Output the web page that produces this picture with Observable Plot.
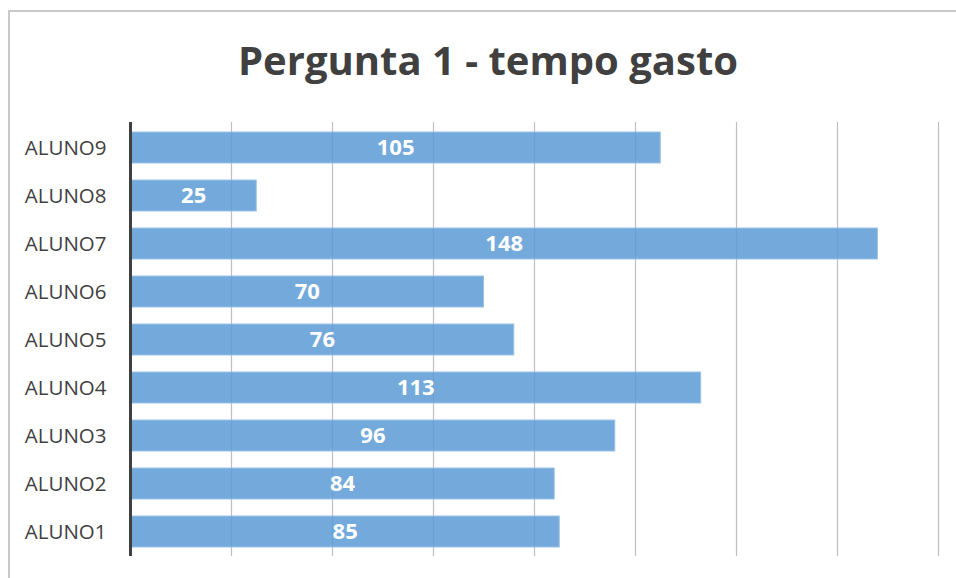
<!DOCTYPE html>
<html>
<head>
<meta charset="utf-8">
<script src="https://cdn.jsdelivr.net/npm/d3@7"></script>
<script src="https://cdn.jsdelivr.net/npm/@observablehq/plot@0.6"></script>
<style>
  html, body { margin: 0; padding: 0; background: #fff; }
  #wrap { position: relative; width: 956px; height: 578px; overflow: hidden; font-family: "Open Sans", sans-serif; }
  #frame { position: absolute; left: 8px; top: 10px; width: 960px; height: 580px; border-top: 2px solid #c9c9c9; border-left: 2px solid #c9c9c9; box-sizing: border-box; }
  #title { position: absolute; left: 0; top: 30px; width: 976px; text-align: center; font-size: 40px; font-weight: 700; color: #404040; line-height: 60px; }
  #chart { position: absolute; left: 0; top: 111px; }
</style>
</head>
<body>
<div id="wrap">
  <div id="frame"></div>
  <div id="title">Pergunta 1 - tempo gasto</div>
  <div id="chart"></div>
</div>
<script>
const alunos = ["ALUNO1","ALUNO2","ALUNO3","ALUNO4","ALUNO5","ALUNO6","ALUNO7","ALUNO8","ALUNO9"];
const tempos = [85, 84, 96, 113, 76, 70, 148, 25, 105];
const gridTicks = [0, 20, 40, 60, 80, 100, 120, 140, 160];

const data = alunos.map((a, i) => ({aluno: a, tempo: tempos[i]}));

const plot = Plot.plot({
  width: 956,
  height: 467,
  marginLeft: 130,
  marginRight: 18,
  marginTop: 11,
  marginBottom: 22,
  style: {fontFamily: "'Open Sans', sans-serif", background: "transparent"},
  x: {domain: [0, 160], axis: null},
  y: {domain: alunos.slice().reverse(), paddingInner: 0.355, paddingOuter: 0.1775, label: null},
  marks: [
    Plot.ruleX(gridTicks.slice(1), {stroke: "#bfbfbf", strokeWidth: 1.2}),
    Plot.barX(data, {x: "tempo", y: "aluno", fill: "#5b9bd5", fillOpacity: 0.85, stroke: "#9dc3e6", strokeWidth: 1}),
    Plot.text(data, {x: d => d.tempo / 2, y: "aluno", text: d => String(d.tempo), fill: "white", fontWeight: 700, fontSize: 22}),
    Plot.ruleX([0], {stroke: "#404040", strokeWidth: 3}),
    Plot.axisY({tickSize: 0, tickPadding: 24, fontSize: 20.5, color: "#404040", label: null})
  ]
});
document.getElementById("chart").appendChild(plot);
</script>
</body>
</html>
